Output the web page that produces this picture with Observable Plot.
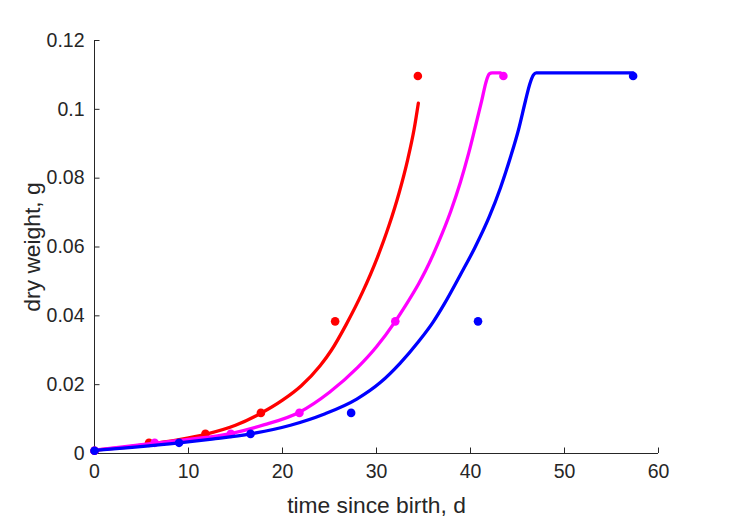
<!DOCTYPE html>
<html>
<head>
<meta charset="utf-8">
<script src="https://cdn.jsdelivr.net/npm/d3@7"></script>
<script src="https://cdn.jsdelivr.net/npm/@observablehq/plot@0.6"></script>
<style>
  html, body { margin: 0; padding: 0; background: #fff; }
  #chart svg { display: block; }
</style>
</head>
<body>
<div id="chart"></div>
<script>
// ---- data ----
const obsWeight = [0.0008, 0.0031, 0.0057, 0.0118, 0.0384, 0.1097];
const redObsT   = [0, 5.8, 11.8, 17.7, 25.6, 34.4];
const magObsT   = [0, 6.4, 14.5, 21.8, 32.0, 43.5];
const blueObsT  = [0, 9.0, 16.6, 27.3, 40.8, 57.3];

const redCurveT = [0, 3, 6, 9, 12, 15, 17.7, 20, 22, 24, 25.2, 26.8, 28.5, 30.1, 31.3, 32.4, 33.3, 34.0, 34.45];
const redCurveW = [0.0010, 0.0017, 0.0028, 0.0040, 0.0057, 0.0082, 0.0117, 0.0155, 0.0197, 0.0255, 0.0300, 0.0376, 0.0468, 0.0570, 0.0660, 0.0757, 0.0852, 0.0942, 0.1018];

const magCurveT = [0, 3, 6.4, 10, 14.5, 18, 21.8, 25, 28, 30, 32, 33, 34.5, 35.2, 36.6, 37.9, 38.9, 39.8, 40.5, 41.2, 41.7, 42.0, 42.3, 43.2];
const magCurveW = [0.0010, 0.0019, 0.0030, 0.0041, 0.0058, 0.0083, 0.0120, 0.0178, 0.0250, 0.0310, 0.0384, 0.0426, 0.0494, 0.0530, 0.0614, 0.0704, 0.0786, 0.0872, 0.0948, 0.1026, 0.1084, 0.1103, 0.1106, 0.1106];

const blueCurveT = [0, 4, 9, 12.5, 16.6, 20.85, 24.4, 27.9, 30.4, 32.5, 34.5, 36, 37.2, 38.9, 40.5, 42, 43.2, 44.3, 45.1, 45.85, 46.3, 46.7, 47.0, 57.3];
const blueCurveW = [0.0009, 0.0018, 0.0031, 0.0042, 0.0057, 0.0082, 0.0114, 0.0158, 0.0206, 0.0262, 0.0326, 0.0381, 0.0434, 0.0518, 0.0600, 0.0688, 0.0773, 0.0865, 0.0940, 0.1025, 0.1073, 0.1100, 0.1106, 0.1106];

const xTicks = [0, 10, 20, 30, 40, 50, 60];
const xTickLabels = ["0", "10", "20", "30", "40", "50", "60"];
const yTicks = [0, 0.02, 0.04, 0.06, 0.08, 0.1, 0.12];
const yTickLabels = ["0", "0.02", "0.04", "0.06", "0.08", "0.1", "0.12"];

const xLabel = "time since birth, d";
const yLabel = "dry weight, g";

const series = [
  {name: "red", color: "#FF0000", obsT: redObsT, curveT: redCurveT, curveW: redCurveW},
  {name: "magenta", color: "#FF00FF", obsT: magObsT, curveT: magCurveT, curveW: magCurveW},
  {name: "blue", color: "#0000FF", obsT: blueObsT, curveT: blueCurveT, curveW: blueCurveW}
];

const W = 729, H = 521, mL = 94, mR = 71, mT = 40, mB = 68;
const frameW = W - mL - mR, frameH = H - mT - mB;
const tickLen = 5.5;
const axisColor = "#262626";
const font = "'Liberation Sans', Arial, Helvetica, sans-serif";

const marks = [];
// axis lines (box off)
marks.push(Plot.ruleX([0], {stroke: axisColor, strokeWidth: 1}));
marks.push(Plot.ruleY([0], {stroke: axisColor, strokeWidth: 1}));
// inward ticks
marks.push(Plot.tickX(xTicks, {x: d => d, stroke: axisColor, strokeWidth: 1, insetTop: frameH - tickLen}));
marks.push(Plot.tickY(yTicks, {y: d => d, stroke: axisColor, strokeWidth: 1, insetRight: frameW - tickLen}));

for (const s of series) {
  const curve = s.curveT.map((t, i) => ({t, w: s.curveW[i]}));
  const obs = s.obsT.map((t, i) => ({t, w: obsWeight[i]}));
  marks.push(Plot.line(curve, {x: "t", y: "w", stroke: s.color, strokeWidth: 3.3, curve: "monotone-x", strokeLinejoin: "round", strokeLinecap: "round"}));
  marks.push(Plot.dot(obs, {x: "t", y: "w", r: 4.3, fill: s.color, stroke: "none"}));
}

marks.push(Plot.axisX({ticks: xTicks, tickSize: 0, tickPadding: 11, fill: axisColor,
  tickFormat: d => xTickLabels[xTicks.indexOf(d)], fontSize: 19.5, label: null}));
marks.push(Plot.axisY({ticks: yTicks, tickSize: 0, tickPadding: 10, fill: axisColor,
  tickFormat: d => yTickLabels[yTicks.indexOf(d)], fontSize: 19.5, label: null}));

marks.push(Plot.text([xLabel], {text: d => d, frameAnchor: "bottom", dy: 52, textAnchor: "middle", lineAnchor: "middle", fontSize: 22.8, fill: axisColor}));
marks.push(Plot.text([yLabel], {text: d => d, frameAnchor: "left", dx: -62, rotate: -90, textAnchor: "middle", lineAnchor: "middle", fontSize: 22.8, fill: axisColor}));

const chart = Plot.plot({
  width: W,
  height: H,
  marginLeft: mL,
  marginRight: mR,
  marginTop: mT,
  marginBottom: mB,
  style: {fontFamily: font, background: "#fff", color: axisColor},
  x: {domain: [0, 60]},
  y: {domain: [0, 0.12]},
  marks
});
document.getElementById("chart").appendChild(chart);
</script>
</body>
</html>
